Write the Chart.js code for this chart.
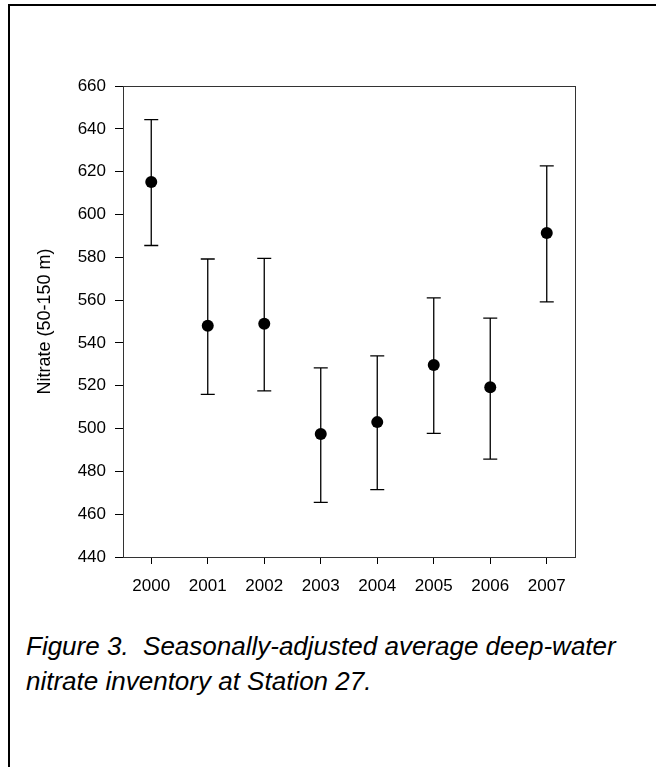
<!DOCTYPE html>
<html>
<head>
<meta charset="utf-8">
<script src="https://cdn.jsdelivr.net/npm/chart.js@4.4.1/dist/chart.umd.min.js"></script>
<style>
  html, body { margin: 0; padding: 0; background: #fff; }
  #frame { position: absolute; left: 8px; top: 4px; width: 700px; height: 800px; border-top: 2px solid #000; border-left: 2px solid #000; }
  #wrap { position: absolute; left: 0; top: 0; width: 656px; height: 600px; }
  #caption { position: absolute; left: 26px; top: 629px; font: italic 26px "Liberation Sans", Arial, sans-serif; line-height: 35px; color: #000; white-space: nowrap; }
</style>
</head>
<body>
<div id="frame"></div>
<div id="wrap"><canvas id="chart" width="656" height="600"></canvas></div>
<div id="caption">Figure 3.&nbsp; Seasonally-adjusted average deep-water<br>nitrate inventory at Station 27.</div>
<script>
// Station 27 deep-water nitrate inventory, yearly mean with error bars
const years = ["2000", "2001", "2002", "2003", "2004", "2005", "2006", "2007"];
const nitrateMean = [615.2, 548.0, 549.0, 497.4, 503.0, 529.7, 519.3, 591.3];
const nitrateHigh = [644.3, 579.2, 579.5, 528.3, 533.9, 561.0, 551.6, 622.7];
const nitrateLow = [585.5, 516.0, 517.6, 465.5, 471.5, 497.7, 485.7, 559.2];
const yTicks = [440, 460, 480, 500, 520, 540, 560, 580, 600, 620, 640, 660];

const FONT = "'Liberation Sans', Arial, sans-serif";

const errorBars = {
  id: "errorBars",
  beforeDatasetsDraw(chart) {
    const { ctx, scales } = chart;
    ctx.save();
    ctx.strokeStyle = "#000";
    ctx.lineWidth = 1.3;
    years.forEach((yr, i) => {
      const x = scales.x.getPixelForValue(i);
      const yHi = scales.y.getPixelForValue(nitrateHigh[i]);
      const yLo = scales.y.getPixelForValue(nitrateLow[i]);
      ctx.beginPath();
      ctx.moveTo(x, yHi);
      ctx.lineTo(x, yLo);
      ctx.moveTo(x - 7, yHi);
      ctx.lineTo(x + 7, yHi);
      ctx.moveTo(x - 7, yLo);
      ctx.lineTo(x + 7, yLo);
      ctx.stroke();
    });
    ctx.restore();
  },
};

const plotFrame = {
  id: "plotFrame",
  afterDraw(chart) {
    const { ctx, chartArea } = chart;
    ctx.save();
    ctx.strokeStyle = "#333";
    ctx.lineWidth = 1;
    ctx.strokeRect(Math.round(chartArea.left) + 0.5, Math.round(chartArea.top) + 0.5,
      Math.round(chartArea.right - chartArea.left), Math.round(chartArea.bottom - chartArea.top));
    ctx.restore();
  },
};

new Chart(document.getElementById("chart"), {
  type: "line",
  data: {
    labels: years,
    datasets: [{
      data: nitrateMean,
      showLine: false,
      pointRadius: 6,
      pointBackgroundColor: "#000",
      pointBorderColor: "#000",
      pointBorderWidth: 0,
    }],
  },
  options: {
    responsive: false,
    animation: false,
    layout: { padding: { top: 86, right: 81, left: 0, bottom: 0 } },
    plugins: { legend: { display: false }, tooltip: { enabled: false } },
    scales: {
      x: {
        offset: true,
        grid: { display: true, drawOnChartArea: false, offset: false, tickLength: 7, color: "#000" },
        border: { display: true, color: "#333" },
        ticks: { color: "#000", font: { family: FONT, size: 17 }, padding: 12, maxRotation: 0 },
        afterFit: (s) => { s.height = 43; },
      },
      y: {
        min: 440,
        max: 660,
        afterBuildTicks: (s) => { s.ticks = yTicks.map((v) => ({ value: v })); },
        grid: { display: true, drawOnChartArea: false, tickLength: 8, color: "#000" },
        border: { display: true, color: "#333" },
        ticks: { color: "#000", font: { family: FONT, size: 17 }, padding: 9 },
        title: { display: true, text: "Nitrate (50-150 m)", color: "#000", font: { family: FONT, size: 18 }, padding: { top: 34, bottom: 0 } },
        afterFit: (s) => { s.width = 123; },
      },
    },
  },
  plugins: [errorBars, plotFrame],
});
</script>
</body>
</html>
